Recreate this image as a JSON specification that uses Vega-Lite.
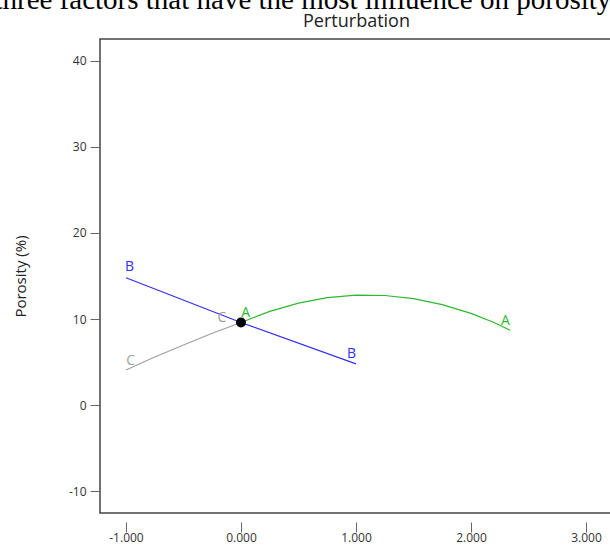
{
  "$schema": "https://vega.github.io/schema/vega-lite/v6.json",
  "width": 512,
  "height": 474,
  "autosize": {"type": "none"},
  "padding": {"left": 100, "top": 39, "right": -2, "bottom": 32},
  "background": "white",
  "title": {
    "text": "three factors that have the most influence on porosity",
    "font": "Liberation Serif",
    "fontSize": 29,
    "fontWeight": "normal",
    "color": "black",
    "anchor": "start",
    "dx": -19,
    "dy": 5,
    "offset": 2
  },
  "config": {
    "view": {"stroke": "#444", "strokeWidth": 1.5},
    "axis": {"grid": false, "domain": false, "tickColor": "#666", "tickSize": 10, "labelFont": "Open Sans", "labelFontSize": 12, "labelColor": "#333", "titleFont": "Open Sans", "titleFontWeight": "normal", "titleColor": "#222"}
  },
  "datasets": {
    "lines": [
      {"s": "A", "x": 0, "y": 9.6},
      {"s": "A", "x": 0.25, "y": 10.9},
      {"s": "A", "x": 0.5, "y": 11.85},
      {"s": "A", "x": 0.75, "y": 12.48},
      {"s": "A", "x": 1.0, "y": 12.78},
      {"s": "A", "x": 1.25, "y": 12.74},
      {"s": "A", "x": 1.5, "y": 12.38},
      {"s": "A", "x": 1.75, "y": 11.68},
      {"s": "A", "x": 2.0, "y": 10.66},
      {"s": "A", "x": 2.2, "y": 9.6},
      {"s": "A", "x": 2.34, "y": 8.7},
      {"s": "B", "x": -1, "y": 14.8},
      {"s": "B", "x": 0, "y": 9.6},
      {"s": "B", "x": 1, "y": 4.8},
      {"s": "C", "x": -1, "y": 4.1},
      {"s": "C", "x": -0.75, "y": 5.6},
      {"s": "C", "x": -0.5, "y": 7.0},
      {"s": "C", "x": -0.25, "y": 8.35},
      {"s": "C", "x": 0, "y": 9.6}
    ],
    "labels": [
      {"s": "B", "x": -0.97, "y": 16.0},
      {"s": "B", "x": 0.96, "y": 6.0},
      {"s": "C", "x": -0.96, "y": 5.1},
      {"s": "C", "x": -0.165, "y": 10.1},
      {"s": "A", "x": 0.04, "y": 10.7},
      {"s": "A", "x": 2.3, "y": 9.8}
    ],
    "center": [{"x": 0, "y": 9.6}]
  },
  "resolve": {"axis": {"x": "independent"}},
  "layer": [
    {
      "data": {"name": "lines"},
      "mark": {"type": "line", "strokeWidth": 1.2},
      "encoding": {
        "x": {"field": "x", "type": "quantitative", "scale": {"domain": [-1.226, 3.226], "nice": false, "zero": false},
              "axis": {"title": null, "values": [-1, 0, 1, 2, 3], "format": ".3f", "labelExpr": "replace(datum.label, '\u2212', '-')", "offset": 9, "labelPadding": 0}},
        "y": {"field": "y", "type": "quantitative", "scale": {"domain": [-12.5, 42.5], "nice": false, "zero": false},
              "axis": {"title": "Porosity (%)", "titleFontSize": 15, "values": [-10, 0, 10, 20, 30, 40], "labelExpr": "replace(datum.label, '\u2212', '-')", "labelPadding": 4, "titlePadding": 40}},
        "color": {"field": "s", "type": "nominal", "legend": null,
                  "scale": {"domain": ["A", "B", "C"], "range": ["#2db82d", "#3030f0", "#a0a0a0"]}},
        "order": {"field": "x", "type": "quantitative"}
      }
    },
    {
      "data": {"name": "labels"},
      "mark": {"type": "text", "font": "Open Sans", "fontSize": 14, "baseline": "middle", "align": "center"},
      "encoding": {
        "x": {"field": "x", "type": "quantitative", "axis": null},
        "y": {"field": "y", "type": "quantitative"},
        "text": {"field": "s"},
        "color": {"field": "s", "type": "nominal", "legend": null}
      }
    },
    {
      "data": {"name": "center"},
      "mark": {"type": "point", "filled": true, "color": "black", "size": 100, "opacity": 1},
      "encoding": {
        "x": {"field": "x", "type": "quantitative",
              "axis": {"orient": "top", "title": "Perturbation", "titleFontSize": 18, "titleColor": "#222", "labels": false, "ticks": false, "domain": false, "titlePadding": 9}},
        "y": {"field": "y", "type": "quantitative"}
      }
    }
  ]
}
